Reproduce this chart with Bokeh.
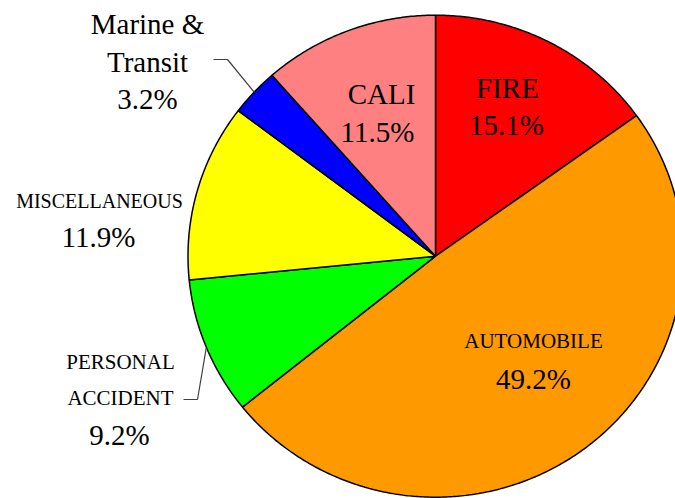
import numpy as np
from bokeh.plotting import figure
from bokeh.models import Range1d, ColumnDataSource
from bokeh.core.properties import value
from bokeh.embed import file_html
from bokeh.resources import INLINE

# ---- data ----
categories = ["FIRE", "AUTOMOBILE", "PERSONAL ACCIDENT", "MISCELLANEOUS", "Marine & Transit", "CALI"]
shares = [15.1, 49.2, 9.2, 11.9, 3.2, 11.5]
name_lines = [["FIRE"], ["AUTOMOBILE"], ["PERSONAL", "ACCIDENT"], ["MISCELLANEOUS"], ["Marine &", "Transit"], ["CALI"]]
pct_labels = ["15.1%", "49.2%", "9.2%", "11.9%", "3.2%", "11.5%"]
colors = ["#FF0000", "#FF9900", "#00FF00", "#FFFF00", "#0000FF", "#FF8080"]

# ---- layout (page-pixel coordinates) ----
W, H = 675, 498
CX, CY = 435.0, 255.7
RX, RY = 247.5, 241.0
FONT = "Liberation Serif"

p = figure(width=W, height=H, output_backend="svg", toolbar_location=None,
           x_range=Range1d(0, W), y_range=Range1d(H, 0),
           min_border=0, outline_line_color=None)
p.axis.visible = False
p.grid.visible = False
p.background_fill_color = "white"
p.border_fill_color = "white"

total = sum(shares)
xs, ys, mids = [], [], []
start = 90.0
for s in shares:
    sweep = s / total * 360.0
    end = start - sweep
    t = np.radians(np.linspace(start, end, max(8, int(sweep * 2))))
    xs.append([CX] + list(CX + RX * np.cos(t)) + [CX])
    ys.append([CY] + list(CY - RY * np.sin(t)) + [CY])
    mids.append((start + end) / 2.0)
    start = end

p.patches(xs=xs, ys=ys, fill_color=colors, line_color="black", line_width=1.5)

# label anchors: (x, [baselines for name lines], pct baseline, name font size, pct x)
anchors = {
    "FIRE": (507, [99], 136, 29, 506),
    "AUTOMOBILE": (533, [350], 390, 21, 533),
    "PERSONAL ACCIDENT": (120, [371, 407], 446, 21, 119),
    "MISCELLANEOUS": (99, [210], 248, 20, 98),
    "Marine & Transit": (147, [35, 73], 110, 29, 147),
    "CALI": (381, [105], 143, 29, 377),
}

def shift(fs):
    return 11.5 if fs >= 25 else 9.5

tx, ty, tt, tsz = [], [], [], []
for cat, lines, pct in zip(categories, name_lines, pct_labels):
    ax, bls, pb, fs, px_ = anchors[cat]
    for ln, bl in zip(lines, bls):
        tx.append(ax); ty.append(bl - shift(fs)); tt.append(ln); tsz.append(f"{fs}px")
    tx.append(px_); ty.append(pb - shift(29)); tt.append(pct); tsz.append("29px")

src = ColumnDataSource(dict(x=tx, y=ty, text=tt, size=tsz))
p.text(x="x", y="y", text="text", source=src, text_font=value(FONT),
       text_font_size="size", text_align="center", text_baseline="alphabetic",
       text_color="black")

# leader lines for outside labels
leaders = {
    "Marine & Transit": [(213, 59), (227, 59)],
    "PERSONAL ACCIDENT": [(183, 399), (197, 399)],
}
for i, cat in enumerate(categories):
    if cat in leaders:
        a = np.radians(mids[i])
        ex, ey = CX + RX * np.cos(a), CY - RY * np.sin(a)
        pts = leaders[cat] + [(ex, ey)]
        p.line([q[0] for q in pts], [q[1] for q in pts], line_color="#404040", line_width=1.2)

open("out.html", "w").write(file_html(p, INLINE))
